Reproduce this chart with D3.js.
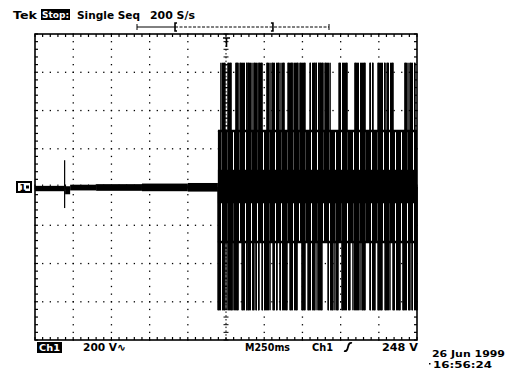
<!DOCTYPE html>
<html><head><meta charset="utf-8">
<script src="https://cdn.jsdelivr.net/npm/d3@7"></script>
<style>
html,body{margin:0;padding:0;background:#fff;}
svg{display:block;}
text{font-family:"DejaVu Sans",sans-serif;font-weight:bold;fill:#000;}
</style></head>
<body>
<svg id="c" width="516" height="371"></svg>
<script>
// ---- data ----
const timeDomain = [0, 2.5];          // 10 div x 250 ms
const voltDomain = [-800, 800];       // 8 div x 200 V
const timeDivs = [0,0.25,0.5,0.75,1,1.25,1.5,1.75,2,2.25,2.5];
const voltDivs = [-800,-600,-400,-200,0,200,400,600,800];
// pre-burst trace: [t0, t1, vLow, vHigh]
const preTrace = [
  [0.000, 0.190, -22, 6],
  [0.190, 0.197, -110, 140],
  [0.197, 0.230, -38, 4],
  [0.230, 0.400, -18, 12],
  [0.400, 0.700, -20, 15],
  [0.700, 1.000, -22, 18],
  [1.000, 1.197, -24, 21]
];
// burst medium band: [t0, t1, vLow, vHigh]
const burstBand = [[1.197, 2.5, -288, 293]];
// dense core of the burst: [t0, t1, vLow, vHigh]
const burstCore = [[1.197, 2.5, -85, 90]];
// tall positive excursions [t0, t1]
const topPulses = [
  [1.217,1.243],[1.263,1.283],[1.315,1.329],[1.342,1.387],[1.394,1.420],
  [1.433,1.459],[1.466,1.486],[1.518,1.538],[1.551,1.597],[1.610,1.630],
  [1.656,1.682],[1.688,1.721],[1.734,1.767],[1.800,1.832],[1.839,1.859],
  [1.865,1.885],[1.898,1.931],[1.990,2.042],[2.094,2.160],[2.192,2.212],
  [2.245,2.291],[2.304,2.343],[2.421,2.441],[2.454,2.487]
];
const topPeak = 650;
// tall negative excursions [t0, t1]
const bottomPulses = [
  [1.198,1.243],[1.257,1.289],[1.296,1.329],[1.355,1.387],[1.394,1.433],
  [1.446,1.466],[1.486,1.538],[1.558,1.584],[1.603,1.649],[1.669,1.715],
  [1.747,1.767],[1.787,1.832],[1.846,1.878],[1.918,1.950],[1.963,1.983],
  [2.009,2.061],[2.081,2.127],[2.140,2.160],[2.192,2.225],[2.245,2.271],
  [2.291,2.323],[2.343,2.389],[2.408,2.454],[2.467,2.500]
];
const bottomPeak = -645;
const recordBar = {start: 0.0, left: 0.198, right: 0.708, end: 1.0}; // fractions of bar span
const headerTexts = ["Tek", "Stop:", "Single Seq", "200 S/s"];
const footerTexts = ["Ch1", "200 V∿", "M250ms", "Ch1", "248 V"];
const dateTexts = ["26 Jun 1999", "16:56:24"];

// ---- drawing ----
const svg = d3.select("#c");
const defs = svg.append("defs");
const pat = defs.append("pattern").attr("id", "vs").attr("patternUnits", "userSpaceOnUse")
  .attr("width", 6).attr("height", 4);
pat.append("rect").attr("width", 6).attr("height", 4).attr("fill", "#fff");
pat.append("rect").attr("width", 5).attr("height", 4).attr("fill", "#000");

const x = d3.scaleLinear().domain(timeDomain).range([35, 417]);
const y = d3.scaleLinear().domain(voltDomain).range([340, 34]);
const minorT = d3.range(0, 50.5).map(i => i * 0.05);
const minorV = d3.range(0, 40.5).map(i => -800 + i * 40);

const grid = svg.append("g");
// dotted grid lines
timeDivs.slice(1, -1).filter(t => t !== 1.25).forEach(t => {
  grid.selectAll(null).data(minorV).join("rect")
    .attr("x", x(t) - 0.6).attr("y", d => y(d) - 0.6)
    .attr("width", 1.3).attr("height", 1.3).attr("fill", "#000");
});
voltDivs.slice(1, -1).filter(v => v !== 0).forEach(v => {
  grid.selectAll(null).data(minorT).join("rect")
    .attr("x", d => x(d) - 0.6).attr("y", y(v) - 0.6)
    .attr("width", 1.3).attr("height", 1.3).attr("fill", "#000");
});
// centre axes with ticks
grid.selectAll(null).data(minorV).join("line")
  .attr("x1", x(1.25) - 2.5).attr("x2", x(1.25) + 2.5)
  .attr("y1", d => y(d)).attr("y2", d => y(d))
  .attr("stroke", "#000").attr("stroke-width", 1);
grid.append("line").attr("x1", x(1.25)).attr("x2", x(1.25))
  .attr("y1", y(800)).attr("y2", y(-800))
  .attr("stroke", "#000").attr("stroke-width", 1).attr("stroke-dasharray", "1.5 2.3");
grid.selectAll(null).data(minorT).join("line")
  .attr("x1", d => x(d)).attr("x2", d => x(d))
  .attr("y1", y(0) - 2.5).attr("y2", y(0) + 2.5)
  .attr("stroke", "#000").attr("stroke-width", 1);
// frame
grid.append("rect").attr("x", x(0)).attr("y", y(800))
  .attr("width", x(2.5) - x(0)).attr("height", y(-800) - y(800))
  .attr("fill", "none").attr("stroke", "#000").attr("stroke-width", 1.6);
// frame ticks
[[800, 1], [-800, -1]].forEach(([v, s]) => {
  grid.selectAll(null).data(minorT).join("line")
    .attr("x1", d => x(d)).attr("x2", d => x(d))
    .attr("y1", y(v)).attr("y2", y(v) + s * 3)
    .attr("stroke", "#000").attr("stroke-width", 1.2);
});
[[0, 1], [2.5, -1]].forEach(([t, s]) => {
  grid.selectAll(null).data(minorV).join("line")
    .attr("x1", x(t)).attr("x2", x(t) + s * 3)
    .attr("y1", d => y(d)).attr("y2", d => y(d))
    .attr("stroke", "#000").attr("stroke-width", 1.2);
});

// trace
const tr = svg.append("g");
tr.selectAll(null).data(preTrace).join("rect").attr("fill", "#000")
  .attr("x", d => x(d[0])).attr("width", d => Math.max(1.2, x(d[1]) - x(d[0])))
  .attr("y", d => y(d[3])).attr("height", d => y(d[2]) - y(d[3]));
tr.selectAll(null).data(burstBand).join("rect").attr("fill", "url(#vs)")
  .attr("x", d => x(d[0])).attr("width", d => x(d[1]) - x(d[0]))
  .attr("y", d => y(d[3])).attr("height", d => y(d[2]) - y(d[3]));
tr.selectAll(null).data(topPulses).join("rect").attr("fill", "url(#vs)")
  .attr("x", d => x(d[0])).attr("width", d => x(d[1]) - x(d[0]))
  .attr("y", y(topPeak)).attr("height", y(0) - y(topPeak));
tr.selectAll(null).data(bottomPulses).join("rect").attr("fill", "url(#vs)")
  .attr("x", d => x(d[0])).attr("width", d => x(d[1]) - x(d[0]))
  .attr("y", y(0)).attr("height", y(bottomPeak) - y(0));
// pulse edges (solid strokes at each edge)
tr.selectAll(null).data(topPulses.flat()).join("line")
  .attr("x1", d => x(d)).attr("x2", d => x(d)).attr("y1", y(topPeak)).attr("y2", y(0))
  .attr("stroke", "#000").attr("stroke-width", 1.5);
tr.selectAll(null).data(bottomPulses.flat()).join("line")
  .attr("x1", d => x(d)).attr("x2", d => x(d)).attr("y1", y(0)).attr("y2", y(bottomPeak))
  .attr("stroke", "#000").attr("stroke-width", 1.5);
tr.selectAll(null).data(burstCore).join("rect").attr("fill", "#000")
  .attr("x", d => x(d[0])).attr("width", d => x(d[1]) - x(d[0]))
  .attr("y", d => y(d[3])).attr("height", d => y(d[2]) - y(d[3]));
// horizontal edges of the medium band
burstBand.forEach(d => {
  [d[2], d[3]].forEach(v => tr.append("line").attr("x1", x(d[0])).attr("x2", x(d[1]))
    .attr("y1", y(v)).attr("y2", y(v)).attr("stroke", "#000").attr("stroke-width", 2.5));
});

// trigger position marker "T"
svg.append("path").attr("d", `M${x(1.25)-3},${y(800)+4}H${x(1.25)+4}M${x(1.25)+0.5},${y(800)+4}V${y(800)+13}`)
  .attr("stroke", "#000").attr("stroke-width", 1.6).attr("fill", "none");

// ground marker
const gm = svg.append("g");
gm.append("rect").attr("x", 17).attr("y", y(0) - 5).attr("width", 14).attr("height", 10)
  .attr("fill", "#fff").attr("stroke", "#000").attr("stroke-width", 2);
gm.append("text").attr("x", 19.5).attr("y", y(0) + 3.5).attr("font-size", 9).text("1");
gm.append("rect").attr("x", 26).attr("y", y(0) - 1.5).attr("width", 3).attr("height", 3).attr("fill", "#000");

// record bar
const rb0 = 137, rb1 = 329, rbY = 27;
const rbx = d3.scaleLinear().domain([0, 1]).range([rb0, rb1]);
svg.append("line").attr("x1", rbx(recordBar.start)).attr("x2", rbx(recordBar.left))
  .attr("y1", rbY).attr("y2", rbY).attr("stroke", "#000").attr("stroke-width", 1);
svg.append("line").attr("x1", rbx(recordBar.left)).attr("x2", rbx(recordBar.end))
  .attr("y1", rbY).attr("y2", rbY).attr("stroke", "#000").attr("stroke-width", 1)
  .attr("stroke-dasharray", "3 1.5");
[recordBar.start, recordBar.end].forEach(f => {
  svg.append("line").attr("x1", rbx(f)).attr("x2", rbx(f)).attr("y1", rbY - 3).attr("y2", rbY + 3)
    .attr("stroke", "#000").attr("stroke-width", 1);
});
svg.append("path").attr("d", `M${rbx(recordBar.left)+2},${rbY-4}H${rbx(recordBar.left)}V${rbY+4}H${rbx(recordBar.left)+2}`)
  .attr("stroke", "#000").attr("stroke-width", 1.6).attr("fill", "none");
svg.append("path").attr("d", `M${rbx(recordBar.right)-2},${rbY-4}H${rbx(recordBar.right)}V${rbY+4}H${rbx(recordBar.right)-2}`)
  .attr("stroke", "#000").attr("stroke-width", 1.6).attr("fill", "none");

// header
const fs = 10.5;
function txt(s, x0, w, yb, size, fill) {
  return svg.append("text").attr("x", x0).attr("y", yb).attr("font-size", size)
    .attr("textLength", w).attr("lengthAdjust", "spacingAndGlyphs")
    .style("fill", fill || "#000").text(s);
}
txt(headerTexts[0], 13, 24, 18.5, 11);
svg.append("rect").attr("x", 41).attr("y", 9).attr("width", 29).attr("height", 11).attr("fill", "#000");
txt(headerTexts[1], 42, 27, 18, 9.5, "#fff");
txt(headerTexts[2], 77, 63, 18.5, fs);
txt(headerTexts[3], 150, 45, 18.5, fs);

// footer
svg.append("rect").attr("x", 37).attr("y", 342).attr("width", 25).attr("height", 11).attr("fill", "#000");
txt(footerTexts[0], 39, 21, 351, 9.5, "#fff");
txt(footerTexts[1], 83, 43, 351, fs);
txt(footerTexts[2], 245, 45, 350.5, fs);
txt(footerTexts[3], 312, 21, 350.5, fs);
svg.append("path").attr("d", "M344,351 Q347,352 348,347 Q349,342 352,343")
  .attr("stroke", "#000").attr("stroke-width", 1.8).attr("fill", "none");
txt(footerTexts[4], 382, 36, 350.5, fs);
txt(dateTexts[0], 432, 73, 357, 9.5);
svg.append("rect").attr("x", 429).attr("y", 363).attr("width", 1.5).attr("height", 1.5).attr("fill", "#000");
txt(dateTexts[1], 433, 59, 367.5, 9.5);
</script>
</body></html>
